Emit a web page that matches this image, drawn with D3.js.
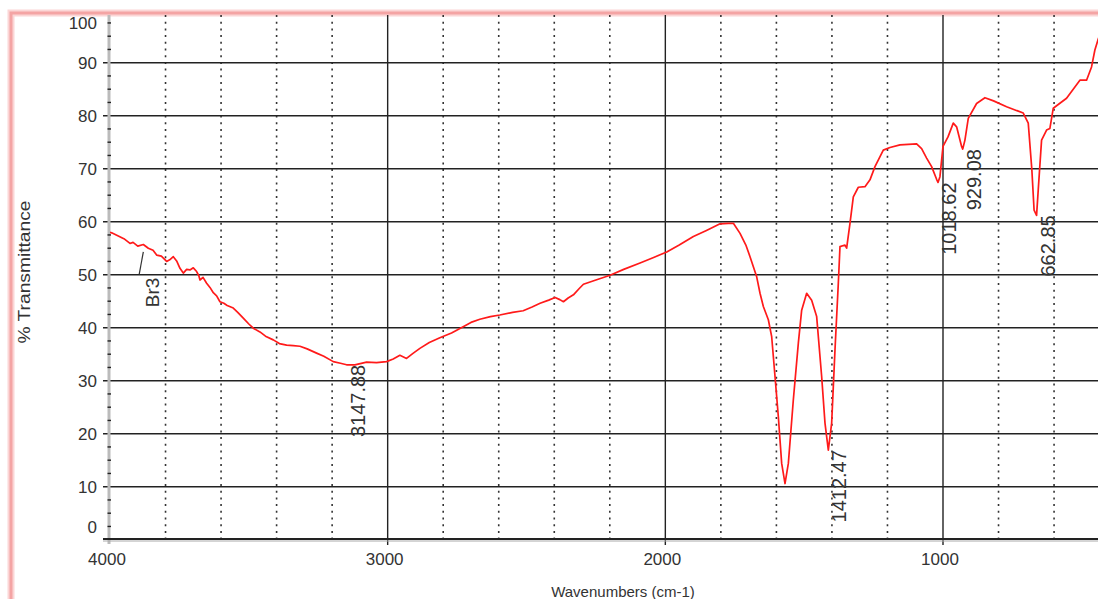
<!DOCTYPE html>
<html>
<head>
<meta charset="utf-8">
<script src="https://cdn.jsdelivr.net/npm/d3@7"></script>
<style>
  body { margin: 0; background: #fff; }
  svg { display: block; }
  text { font-family: "Liberation Sans", Arial, sans-serif; fill: #333; }
</style>
</head>
<body>
<div></div>
<script>
// spectrum
const wavenumbers = [4000, 3994, 3950, 3928, 3917, 3900, 3880, 3862, 3845, 3832, 3815, 3796, 3785, 3772, 3760, 3748,
  3736, 3724, 3712, 3700, 3688, 3680, 3676, 3665, 3652, 3640, 3628, 3616, 3604, 3590, 3578, 3556, 3540, 3520, 3500,
  3484, 3460, 3440, 3412, 3390, 3364, 3340, 3316, 3290, 3256, 3230, 3196, 3170, 3148, 3118, 3076, 3040, 3004, 2980,
  2956, 2932, 2910, 2884, 2850, 2812, 2770, 2728, 2700, 2668, 2630, 2596, 2550, 2512, 2480, 2451, 2420, 2397, 2380,
  2367, 2350, 2331, 2310, 2295, 2250, 2199, 2150, 2091, 2040, 1995, 1950, 1899, 1850, 1803, 1773, 1755, 1731, 1710,
  1695, 1671, 1659, 1647, 1629, 1617, 1605, 1593, 1581, 1569, 1557, 1539, 1521, 1509, 1491, 1473, 1455, 1437, 1425,
  1413, 1401, 1389, 1377, 1371, 1353, 1347, 1335, 1323, 1305, 1281, 1263, 1245, 1215, 1191, 1155, 1095, 1077, 1059,
  1041, 1023, 1018, 1011, 1000, 982, 963, 951, 933, 929, 921, 909, 879, 849, 818, 771, 711, 693, 680, 672, 663, 657,
  645, 627, 615, 603, 555, 507, 483, 465, 453, 442, 430];
const transmittance = [58.0, 57.9, 56.8, 55.9, 56.1, 55.4, 55.7, 55.0, 54.6, 53.7, 53.5, 52.5, 52.8, 53.4, 52.6, 51.2,
  50.3, 51.0, 50.9, 51.3, 50.6, 49.8, 49.0, 49.5, 48.4, 47.6, 46.6, 46.0, 44.9, 44.6, 44.2, 43.7, 42.9, 41.8, 40.7,
  39.9, 39.2, 38.4, 37.7, 37.0, 36.7, 36.6, 36.5, 36.0, 35.2, 34.6, 33.6, 33.3, 33.0, 33.0, 33.5, 33.4, 33.6, 34.1,
  34.8, 34.2, 35.1, 36.1, 37.2, 38.1, 39.0, 40.2, 41.0, 41.6, 42.1, 42.4, 42.9, 43.2, 43.9, 44.6, 45.2, 45.7, 45.3,
  44.9, 45.6, 46.2, 47.4, 48.2, 49.0, 49.9, 51.0, 52.2, 53.3, 54.3, 55.6, 57.2, 58.4, 59.6, 59.7, 59.7, 57.8, 55.6,
  53.4, 49.6, 46.5, 44.0, 41.5, 38.3, 30.8, 23.2, 14.4, 10.6, 14.4, 26.4, 37.1, 43.3, 46.5, 45.2, 42.1, 30.8, 22.0,
  16.9, 22.0, 35.8, 48.4, 55.3, 55.6, 55.0, 59.7, 64.7, 66.5, 66.6, 67.9, 70.4, 73.5, 74.0, 74.5, 74.7, 73.8, 72.0,
  70.4, 68.0, 67.4, 68.5, 74.2, 76.0, 78.6, 77.9, 74.2, 73.7, 75.4, 79.5, 82.3, 83.4, 82.8, 81.7, 80.5, 78.6, 69.8,
  62.2, 61.2, 66.0, 75.4, 77.3, 77.6, 81.4, 83.3, 86.7, 86.7, 89.2, 92.4, 94.3, 96.0];

const peakWn = [3147.88, 1412.47, 1018.62, 929.08, 662.85];
const peakT = [33.0, 16.9, 67.4, 73.7, 61.2];
const peakLabels = ["3147.88", "1412.47", "1018.62", "929.08", "662.85"];

const yTicks = [0, 10, 20, 30, 40, 50, 60, 70, 80, 90, 100];
const yMinor = [2.5, 5, 7.5, 12.5, 15, 17.5, 22.5, 25, 27.5, 32.5, 35, 37.5, 42.5, 45, 47.5, 52.5, 55, 57.5,
  62.5, 65, 67.5, 72.5, 75, 77.5, 82.5, 85, 87.5, 92.5, 95, 97.5];
const xLabels = [4000, 3000, 2000, 1000];
const xDotted = [3800, 3600, 3400, 3200, 2800, 2600, 2400, 2200, 1800, 1600, 1400, 1200, 800, 600];

const sampleName = "Br3";
const sampleWn = [3880, 3895];
const sampleT = [54.3, 50.0];

const W = 1098, H = 599;
const plotTop = 15, plotBottom = 539;

const svg = d3.select("div").append("svg").attr("width", W).attr("height", H);

const x = d3.scaleLinear().domain([4000, 400]).range([110, 1109.6]);
const y = d3.scaleLinear().domain([0, 100]).range([539.7, 9.7]);

// frame
svg.append("rect").attr("x", 11).attr("y", 13).attr("width", 1300).attr("height", 800)
  .attr("fill", "none").attr("stroke", "#fbd6d6").attr("stroke-width", 7);
svg.append("rect").attr("x", 11).attr("y", 13).attr("width", 1300).attr("height", 800)
  .attr("fill", "none").attr("stroke", "#f4a4a4").attr("stroke-width", 3);

const grid = svg.append("g");

// dotted verticals
grid.selectAll(".dot").data(xDotted).enter().append("line")
  .attr("x1", d => x(d)).attr("x2", d => x(d))
  .attr("y1", plotTop).attr("y2", plotBottom + 4)
  .attr("stroke", "#333").attr("stroke-width", 1.6)
  .attr("stroke-dasharray", "2,4.7");

// solid verticals
grid.selectAll(".vmaj").data(xLabels.slice(1)).enter().append("line")
  .attr("x1", d => x(d)).attr("x2", d => x(d))
  .attr("y1", plotTop).attr("y2", plotBottom + 6)
  .attr("stroke", "#222").attr("stroke-width", 1.4);

// horizontal lines
grid.selectAll(".hmaj").data(yTicks.slice(1, 10)).enter().append("line")
  .attr("x1", 103).attr("x2", W)
  .attr("y1", d => y(d)).attr("y2", d => y(d))
  .attr("stroke", "#222").attr("stroke-width", 1.4);

// y axis
grid.append("line").attr("x1", 109).attr("x2", 109).attr("y1", plotTop).attr("y2", plotBottom + 5)
  .attr("stroke", "#bbb").attr("stroke-width", 3);
grid.selectAll(".ymin").data(yMinor).enter().append("line")
  .attr("x1", 107.5).attr("x2", 111)
  .attr("y1", d => y(d)).attr("y2", d => y(d))
  .attr("stroke", "#222").attr("stroke-width", 1.4);

// x axis
grid.append("line").attr("x1", 103).attr("x2", W).attr("y1", plotBottom).attr("y2", plotBottom)
  .attr("stroke", "#222").attr("stroke-width", 2);
grid.append("line").attr("x1", 103).attr("x2", W).attr("y1", plotBottom + 2).attr("y2", plotBottom + 2)
  .attr("stroke", "#aaa").attr("stroke-width", 1);

// tick labels
svg.selectAll(".ylab").data(yTicks).enter().append("text")
  .attr("x", 97)
  .attr("y", d => d === 0 ? y(d) - 13 : d === 100 ? y(d) + 13 : y(d))
  .attr("dy", "0.36em")
  .attr("text-anchor", "end")
  .style("font-size", "17px")
  .text(d => d);

svg.selectAll(".xlab").data(xLabels).enter().append("text")
  .attr("x", d => x(d) - 3)
  .attr("y", 565)
  .attr("text-anchor", "middle")
  .style("font-size", "17px")
  .text(d => d);

// axis titles
svg.append("text").attr("x", 623).attr("y", 597).attr("text-anchor", "middle")
  .style("font-size", "15px").text("Wavenumbers (cm-1)");
svg.append("text").attr("transform", "translate(30,272) rotate(-90)").attr("text-anchor", "middle")
  .style("font-size", "17px").attr("textLength", 143).attr("lengthAdjust", "spacingAndGlyphs")
  .text("% Transmittance");

// spectrum
svg.append("clipPath").attr("id", "plot").append("rect")
  .attr("x", 110).attr("y", plotTop).attr("width", W - 110).attr("height", plotBottom - plotTop);

const pts = wavenumbers.map((w, i) => [w, transmittance[i]]);
const line = d3.line().x(d => x(d[0])).y(d => y(d[1]));

svg.append("path").datum(pts)
  .attr("clip-path", "url(#plot)")
  .attr("d", line)
  .attr("fill", "none")
  .attr("stroke", "#ff1a1a")
  .attr("stroke-width", 1.7)
  .attr("stroke-linejoin", "round");

// peak labels
svg.selectAll(".peak").data(peakLabels).enter().append("text")
  .attr("transform", (d, i) => "translate(" + (x(peakWn[i]) + 18) + "," + y(peakT[i]) + ") rotate(-90)")
  .attr("text-anchor", "end")
  .style("font-size", "20px")
  .text(d => d);

// sample label
svg.append("line")
  .attr("x1", x(sampleWn[0])).attr("y1", y(sampleT[0]))
  .attr("x2", x(sampleWn[1])).attr("y2", y(sampleT[1]))
  .attr("stroke", "#333").attr("stroke-width", 1.2);
svg.append("text")
  .attr("transform", "translate(" + (x(sampleWn[1]) + 20) + "," + (y(sampleT[1]) + 3) + ") rotate(-90)")
  .attr("text-anchor", "end")
  .style("font-size", "19px")
  .text(sampleName);
</script>
</body>
</html>
